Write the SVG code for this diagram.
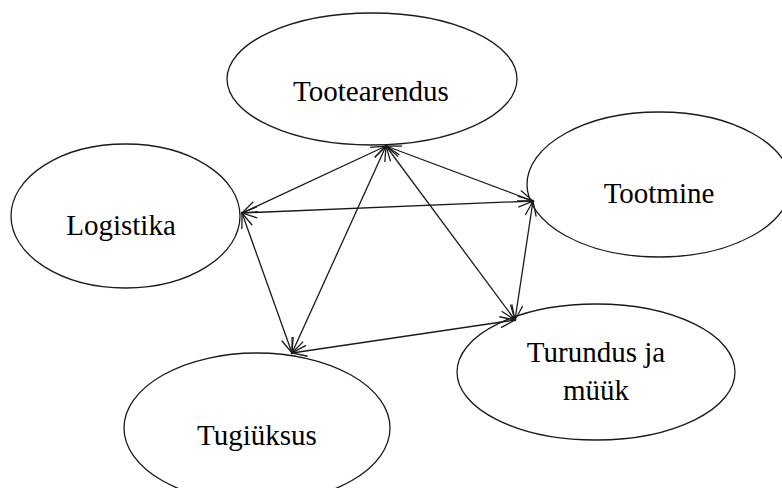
<svg xmlns="http://www.w3.org/2000/svg" width="782" height="488" viewBox="0 0 782 488">
  <style>
    .node ellipse { fill: #ffffff; stroke: #1a1a1a; stroke-width: 1.3; }
    .node text { font-family: "Liberation Serif", "Times New Roman", serif; font-size: 29px; fill: #000000; text-anchor: middle; }
    .edges line { stroke: #1a1a1a; stroke-width: 1.3; marker-start: url(#chev); marker-end: url(#chev); }
  </style>
  <defs>
    <!-- open chevron arrowhead, tip at the line end -->
    <marker id="chev" markerUnits="userSpaceOnUse" markerWidth="20" markerHeight="16" viewBox="-16 -8 20 16" refX="0" refY="0" orient="auto-start-reverse">
      <path d="M-15,-5.5 L0,0 L-15,5.5" fill="none" stroke="#1a1a1a" stroke-width="1.3"/>
    </marker>
  </defs>

  <rect width="782" height="488" fill="#ffffff"/>

  <g id="node-tootearendus" class="node">
    <ellipse cx="372" cy="79" rx="145" ry="66"/>
    <text x="371" y="101">Tootearendus</text>
  </g>
  <g id="node-logistika" class="node">
    <ellipse cx="125.5" cy="216" rx="114.5" ry="72"/>
    <text x="121" y="235">Logistika</text>
  </g>
  <g id="node-tootmine" class="node">
    <ellipse cx="659" cy="184.5" rx="132" ry="72.5"/>
    <text x="659" y="203">Tootmine</text>
  </g>
  <g id="node-turundus" class="node">
    <ellipse cx="596" cy="372" rx="139" ry="68"/>
    <text x="596" y="362">Turundus ja</text>
    <text x="596" y="400">müük</text>
  </g>
  <g id="node-tugiyksus" class="node">
    <ellipse cx="257" cy="428" rx="133" ry="75"/>
    <text x="257" y="445">Tugiüksus</text>
  </g>

  <g id="connectors" class="edges">
    <line x1="386" y1="146" x2="242" y2="213"/>
    <line x1="386" y1="146" x2="533" y2="201"/>
    <line x1="386" y1="146" x2="292" y2="353"/>
    <line x1="386" y1="146" x2="515" y2="320"/>
    <line x1="242" y1="213" x2="533" y2="201"/>
    <line x1="242" y1="213" x2="292" y2="353"/>
    <line x1="533" y1="201" x2="515" y2="320"/>
    <line x1="292" y1="353" x2="515" y2="320"/>
  </g>
</svg>
